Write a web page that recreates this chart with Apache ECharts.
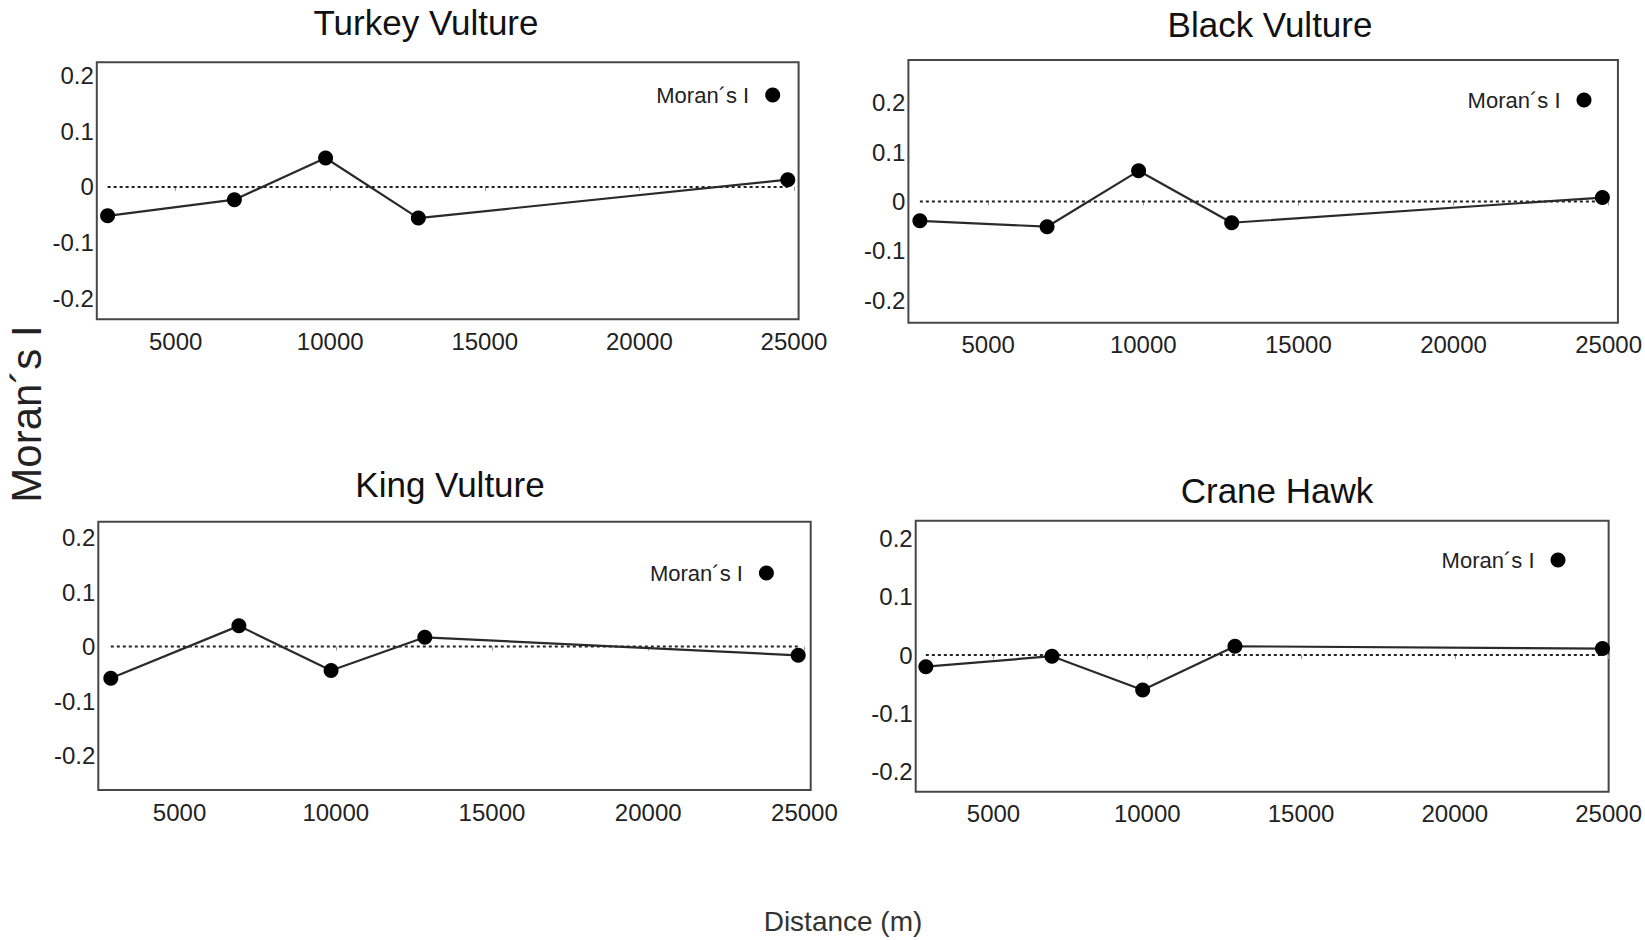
<!DOCTYPE html>
<html><head><meta charset="utf-8">
<script src="https://cdn.jsdelivr.net/npm/echarts@6/dist/echarts.min.js"></script>
<style>html,body{margin:0;padding:0;background:#fff}#c{width:1645px;height:940px}</style>
</head><body><div id="c"></div>
<script>
// ---- data ----
const panelTitles = ['Turkey Vulture', 'Black Vulture', 'King Vulture', 'Crane Hawk'];
const distances = [2800, 6900, 9850, 12850, 24800];
const turkeyVulture = [-0.052, -0.023, 0.052, -0.056, 0.013];
const blackVulture = [-0.039, -0.051, 0.062, -0.043, 0.008];
const kingVulture = [-0.058, 0.038, -0.044, 0.017, -0.016];
const craneHawk = [-0.020, -0.002, -0.060, 0.015, 0.011];
const expectedI = 0;
const xTicks = [5000, 10000, 15000, 20000, 25000];
const yTicks = [-0.2, -0.1, 0, 0.1, 0.2];
const seriesName = 'Moran´s I';
const yAxisTitle = 'Moran´s I';
const xAxisTitle = 'Distance (m)';

// ---- layout ----
const panelValues = [turkeyVulture, blackVulture, kingVulture, craneHawk];
const grids = [
  {left: 96.8, top: 62.3, width: 701.8, height: 257},
  {left: 908.4, top: 60, width: 720.3, height: 262.7},
  {left: 98.3, top: 521.7, width: 712.4, height: 268.3},
  {left: 915.7, top: 520.7, width: 693.3, height: 271}
];
const xRanges = [[2450, 25150], [2430, 25300], [2400, 25200], [2470, 25000]];
const yRanges = [[-0.238, 0.224], [-0.245, 0.286], [-0.263, 0.229], [-0.234, 0.230]];
const titlePos = [[426, 22], [1270, 24], [450, 484], [1277, 490]];
const legendPos = [[777.7, 90], [1589, 95], [771.4, 568], [1563, 555]];

const FONT = '"Liberation Sans", Arial, sans-serif';
const option = {
  animation: false,
  backgroundColor: '#fff',
  grid: grids.map(g => Object.assign({show: true, borderColor: '#474747', borderWidth: 2, backgroundColor: 'transparent'}, g)),
  xAxis: grids.map((g, i) => ({
    type: 'value', gridIndex: i, min: xRanges[i][0], max: xRanges[i][1],
    splitLine: {show: false}, axisLine: {show: false},
    axisTick: {show: true, length: 4, lineStyle: {color: '#999'}, customValues: xTicks},
    axisLabel: {customValues: xTicks, fontSize: 24, color: '#222', fontFamily: FONT, margin: 10,
      formatter: v => String(v)}
  })),
  yAxis: grids.map((g, i) => ({
    type: 'value', gridIndex: i, min: yRanges[i][0], max: yRanges[i][1],
    splitLine: {show: false}, axisLine: {show: false},
    axisTick: {show: false},
    axisLabel: {customValues: yTicks, fontSize: 24, color: '#222', fontFamily: FONT, margin: 3,
      formatter: v => String(Math.round(v * 10) / 10)}
  })),
  legend: legendPos.map(p => ({
    data: [seriesName], selectedMode: false, icon: 'circle', align: 'right',
    itemWidth: 15, itemHeight: 15,
    right: 1645 - (p[0] + 7.5), top: p[1] - 11,
    textStyle: {fontSize: 22, color: '#222', fontFamily: FONT, padding: [0, 11, 0, 0]}
  })),
  series: [],
  graphic: []
};
panelValues.forEach((vals, i) => {
  option.series.push({
    name: 'expected', type: 'line', xAxisIndex: i, yAxisIndex: i,
    data: distances.map(d => [d, expectedI]), symbol: 'none', silent: true,
    lineStyle: {color: '#222', width: 2, type: [3, 3]}, z: 2
  });
  option.series.push({
    name: seriesName, type: 'line', xAxisIndex: i, yAxisIndex: i,
    data: distances.map((d, k) => [d, vals[k]]),
    symbol: 'circle', symbolSize: 15,
    itemStyle: {color: '#000'},
    lineStyle: {color: '#2a2a2a', width: 2.2},
    z: 3
  });
  option.graphic.push({
    type: 'text', x: titlePos[i][0], y: titlePos[i][1],
    style: {text: panelTitles[i], fontSize: 35, fontFamily: FONT, fill: '#111', align: 'center', verticalAlign: 'middle'}
  });
});
option.graphic.push({
  type: 'text', x: 26, y: 414, rotation: Math.PI / 2,
  style: {text: yAxisTitle, fontSize: 42, fontFamily: FONT, fill: '#222', align: 'center', verticalAlign: 'middle'}
});
option.graphic.push({
  type: 'text', x: 843, y: 921,
  style: {text: xAxisTitle, fontSize: 28, fontFamily: FONT, fill: '#333', align: 'center', verticalAlign: 'middle'}
});
const chart = echarts.init(document.getElementById('c'), null, {renderer: 'svg'});
chart.setOption(option);
</script>
</body></html>
